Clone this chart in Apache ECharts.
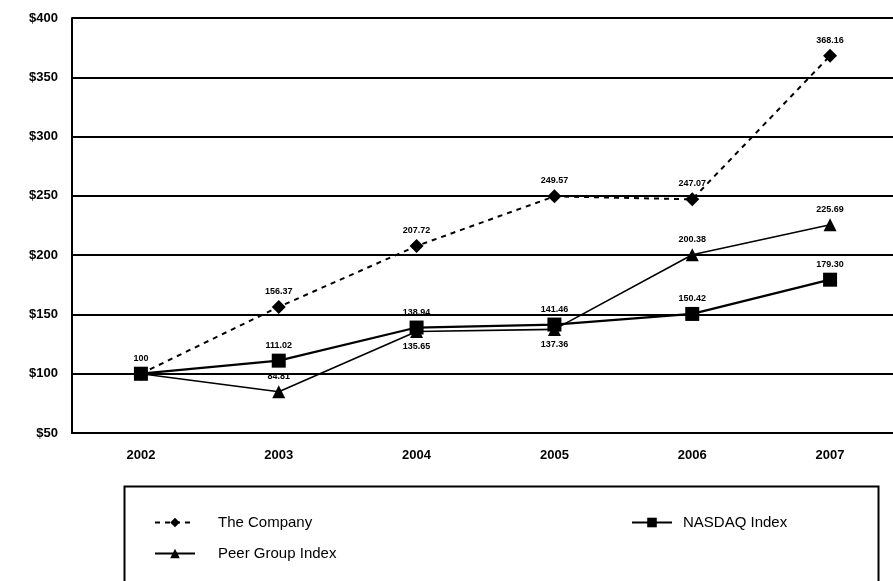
<!DOCTYPE html>
<html>
<head>
<meta charset="utf-8">
<script src="https://cdn.jsdelivr.net/npm/echarts@6/dist/echarts.min.js"></script>
<style>
  html, body { margin: 0; padding: 0; background: #fff; }
  #chart { width: 893px; height: 581px; }
</style>
</head>
<body>
<div id="chart"></div>
<script>
const years = ['2002', '2003', '2004', '2005', '2006', '2007'];
const company = [100, 156.37, 207.72, 249.57, 247.07, 368.16];
const nasdaq = [100, 111.02, 138.94, 141.46, 150.42, 179.30];
const peer = [100, 84.81, 135.65, 137.36, 200.38, 225.69];
// which points carry a label, and where
const companyLabelPos = [null, 'top', 'top', 'top', 'top', 'top'];
const nasdaqLabelPos = ['top', 'top', 'top', 'top', 'top', 'top'];
const peerLabelPos = [null, 'top', 'bottom', 'bottom', 'top', 'top'];

const font = 'Liberation Sans, Arial, sans-serif';

function points(values, positions) {
    return values.map((v, i) => ({
        value: v,
        label: positions[i]
            ? { show: true, position: positions[i], distance: 4 }
            : { show: false }
    }));
}

const baseLabel = {
    formatter: p => (p.value === 100 ? '100' : p.value.toFixed(2)),
    fontSize: 9,
    fontWeight: 'bold',
    fontFamily: font,
    color: '#000'
};

const legendText = { color: '#000', fontSize: 15, fontFamily: font };

const chart = echarts.init(document.getElementById('chart'));
chart.setOption({
    animation: false,
    backgroundColor: '#fff',
    grid: { left: 72, width: 827, top: 18, bottom: 148, outerBoundsMode: 'none' },
    xAxis: {
        type: 'category',
        data: years,
        boundaryGap: true,
        axisLine: { lineStyle: { color: '#000', width: 2 } },
        axisTick: { inside: true, length: 9, alignWithLabel: true, lineStyle: { color: '#000', width: 1.5 } },
        axisLabel: { color: '#000', fontSize: 13, fontWeight: 'bold', fontFamily: font, margin: 16 }
    },
    yAxis: {
        type: 'value',
        min: 50,
        max: 400,
        interval: 50,
        axisLine: { show: true, lineStyle: { color: '#000', width: 2 } },
        axisTick: { show: false },
        splitLine: { lineStyle: { color: '#000', width: 2 } },
        axisLabel: {
            color: '#000', fontSize: 13, fontWeight: 'bold', fontFamily: font, margin: 14,
            formatter: v => '$' + v
        }
    },
    legend: [
        {
            data: ['The Company', 'Peer Group Index'],
            orient: 'vertical',
            left: 149,
            top: 510,
            itemWidth: 40,
            itemHeight: 12,
            itemGap: 16,
            textStyle: Object.assign({ padding: [0, 0, 0, 18] }, legendText)
        },
        {
            data: ['NASDAQ Index'],
            left: 626,
            top: 510,
            itemWidth: 40,
            itemHeight: 12,
            textStyle: Object.assign({ padding: [0, 0, 0, 6] }, legendText)
        }
    ],
    graphic: [{
        type: 'rect',
        left: 122,
        top: 484,
        shape: { width: 754, height: 120 },
        style: { fill: 'none', stroke: '#000', lineWidth: 2 },
        silent: true
    }],
    series: [
        {
            name: 'Peer Group Index',
            type: 'line',
            data: points(peer, peerLabelPos),
            symbol: 'triangle',
            symbolSize: 13,
            lineStyle: { color: '#000', width: 1.6 },
            itemStyle: { color: '#000' },
            label: baseLabel,
            z: 2
        },
        {
            name: 'NASDAQ Index',
            type: 'line',
            data: points(nasdaq, nasdaqLabelPos),
            symbol: 'rect',
            symbolSize: 14,
            lineStyle: { color: '#000', width: 2.2 },
            itemStyle: { color: '#000' },
            label: baseLabel,
            z: 3
        },
        {
            name: 'The Company',
            type: 'line',
            data: points(company, companyLabelPos),
            symbol: 'diamond',
            symbolSize: 14,
            lineStyle: { color: '#000', width: 2, type: [5, 5] },
            itemStyle: { color: '#000' },
            label: baseLabel,
            z: 4
        }
    ]
});
</script>
</body>
</html>
